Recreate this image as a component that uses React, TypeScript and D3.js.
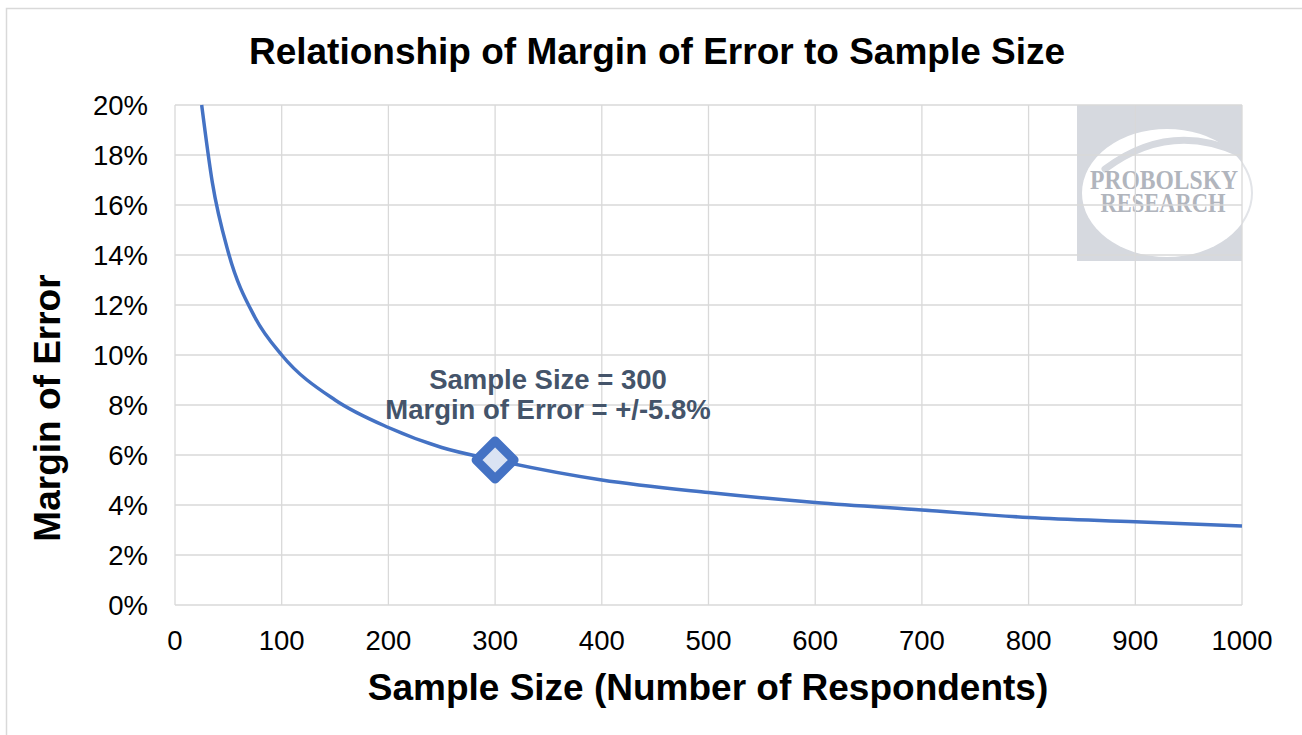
import React from "react";
import * as d3 from "d3";

const sampleSizes = [25, 35, 50, 75, 100, 150, 200, 250, 300, 400, 500, 600, 700, 800, 900, 1000];
const marginOfError = [20.0, 16.9, 14.1, 11.5, 10.0, 8.2, 7.1, 6.3, 5.8, 5.0, 4.5, 4.1, 3.8, 3.5, 3.33, 3.16];
const xTicks = [0, 100, 200, 300, 400, 500, 600, 700, 800, 900, 1000];
const yTicks = [0, 2, 4, 6, 8, 10, 12, 14, 16, 18, 20];
const highlightN = 300;
const highlightMoe = 5.8;
const annotationLines = ["Sample Size = 300", "Margin of Error = +/-5.8%"];

const W = 1302;
const H = 735;
const M = { left: 175, right: 1242, top: 105, bottom: 605 };
const FONT = "'Liberation Sans', Arial, sans-serif";
const BLUE = "#4472C4";

export default function App() {
  const x = d3.scaleLinear().domain([0, 1000]).range([M.left, M.right]);
  const y = d3.scaleLinear().domain([0, 20]).range([M.bottom, M.top]);
  const pts = sampleSizes.map((n, i) => [n, marginOfError[i]] as [number, number]);
  const line = d3
    .line<[number, number]>()
    .x((d) => x(d[0]))
    .y((d) => y(d[1]))
    .curve(d3.curveMonotoneX);
  const hx = x(highlightN);
  const hy = y(highlightMoe);
  const r = 19;
  const diamond = `M${hx},${hy - r}L${hx + r},${hy}L${hx},${hy + r}L${hx - r},${hy}Z`;

  // logo geometry
  const lx0 = 1077, lx1 = 1242, ly0 = 105, ly1 = 261;
  const ecx = 1167, ecy = 193, erx = 85, ery = 64;

  return (
    <svg
      width={W}
      height={H}
      style={{ position: "absolute", left: 0, top: 0, background: "#fff" }}
    >
      <rect x={6.5} y={8.5} width={W + 20} height={H + 20} fill="#fff" stroke="#d9d9d9" strokeWidth={1.5} />

      {/* logo watermark */}
      <g>
        <defs>
          <clipPath id="logoClip">
            <rect x={lx0} y={ly0} width={lx1 - lx0} height={ly1 - ly0} />
          </clipPath>
        </defs>
        <ellipse cx={ecx} cy={ecy} rx={erx} ry={ery} fill="none" stroke="#e2e4e8" strokeWidth={2} />
        <rect x={lx0} y={ly0} width={lx1 - lx0} height={ly1 - ly0} fill="#d6d9df" />
        <g clipPath="url(#logoClip)">
          <ellipse cx={ecx} cy={ecy} rx={erx} ry={ery} fill="#fff" />
          <path
            d={`M${ecx - 62},${ecy - 24} Q${ecx + 2},${ecy - 72} ${ecx + 72},${ecy - 40}`}
            fill="none"
            stroke="#d6d9df"
            strokeWidth={7}
            strokeLinecap="round"
          />
        </g>
        <text
          textAnchor="middle"
          fontFamily="'Liberation Serif', 'Times New Roman', serif"
          fontWeight="bold"
          fontSize={27}
          fill="#b1b5bd"
        >
          <tspan x={1164} y={189} textLength={148} lengthAdjust="spacingAndGlyphs">
            PROBOLSKY
          </tspan>
          <tspan x={1163} y={212} textLength={125} lengthAdjust="spacingAndGlyphs">
            RESEARCH
          </tspan>
        </text>
      </g>

      {/* gridlines */}
      <g stroke="#d9d9d9" strokeWidth={1.3}>
        {yTicks.map((t) => (
          <line key={"h" + t} x1={M.left} x2={M.right} y1={y(t)} y2={y(t)} />
        ))}
        {xTicks.map((t) => (
          <line key={"v" + t} x1={x(t)} x2={x(t)} y1={M.top} y2={M.bottom} />
        ))}
      </g>

      {/* tick labels */}
      <g fontFamily={FONT} fontSize={27.5} fill="#000">
        {yTicks.map((t) => (
          <text key={"yl" + t} x={148} y={y(t) + 10} textAnchor="end">
            {t}%
          </text>
        ))}
        {xTicks.map((t) => (
          <text key={"xl" + t} x={x(t)} y={650} textAnchor="middle">
            {t}
          </text>
        ))}
      </g>

      {/* curve */}
      <path d={line(pts) || ""} fill="none" stroke={BLUE} strokeWidth={3.5} />

      {/* highlight marker */}
      <path d={diamond} fill="#dae3f3" stroke={BLUE} strokeWidth={9} strokeLinejoin="round" />

      {/* annotation */}
      <g fontFamily={FONT} fontWeight="bold" fontSize={27.5} fill="#44546a" textAnchor="middle">
        {annotationLines.map((s, i) => (
          <text key={i} x={548} y={389 + i * 30}>
            {s}
          </text>
        ))}
      </g>

      {/* titles */}
      <text x={657} y={64} textAnchor="middle" fontFamily={FONT} fontWeight="bold" fontSize={37} fill="#000">
        Relationship of Margin of Error to Sample Size
      </text>
      <text x={708} y={700} textAnchor="middle" fontFamily={FONT} fontWeight="bold" fontSize={37} fill="#000">
        Sample Size (Number of Respondents)
      </text>
      <text
        transform={`translate(59.5,408) rotate(-90)`}
        textAnchor="middle"
        fontFamily={FONT}
        fontWeight="bold"
        fontSize={37}
        fill="#000"
      >
        Margin of Error
      </text>
    </svg>
  );
}
